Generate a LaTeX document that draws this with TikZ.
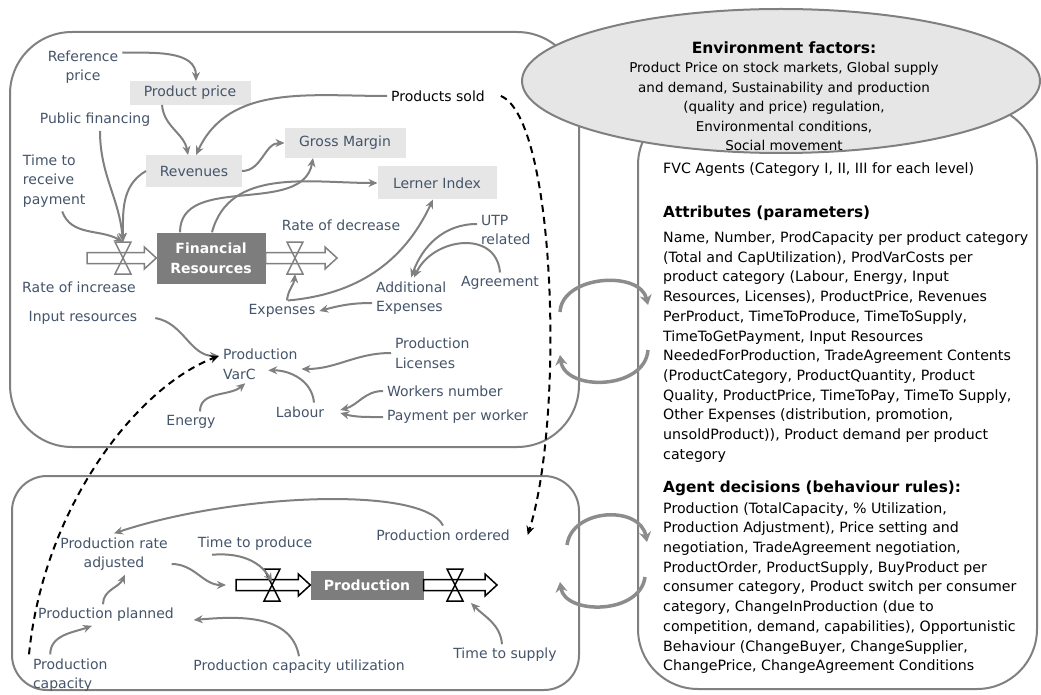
\documentclass[tikz,border=0pt]{standalone}
\usepackage{fontspec}
\setmainfont{DejaVu Sans}
\usetikzlibrary{arrows.meta,calc,shapes.geometric}

\definecolor{lblcol}{RGB}{68,84,106}
\definecolor{arrcol}{RGB}{128,128,128}
\definecolor{panelcol}{RGB}{128,128,128}
\definecolor{auxfill}{RGB}{231,230,230}
\definecolor{stockfill}{RGB}{125,125,125}
\definecolor{envfill}{RGB}{230,230,230}
\definecolor{swapcol}{RGB}{140,140,140}

\newcommand{\flowpipe}[3]{\draw[draw=#3, line width=1.5pt] ($(#1)+(0,-5.5)$) -- ($(#2)+(-12,-5.5)$) -- ($(#2)+(-12,-11)$) -- (#2) -- ($(#2)+(-12,11)$) -- ($(#2)+(-12,5.5)$) -- ($(#1)+(0,5.5)$) -- cycle;}
\newcommand{\valveat}[3]{\node[valve] (#1) at (#2) {}; \draw[draw=#3, line width=1.5pt] (#1.north west) -- (#1.south east) -- (#1.south west) -- (#1.north east) -- cycle;}

\tikzset{
    lbl/.style={text=lblcol, font=\fontsize{14}{19.7}\selectfont, inner sep=1pt, outer sep=3pt},
    aux/.style={lbl, fill=auxfill, inner sep=0pt, outer sep=0pt},
    stock/.style={fill=stockfill, text=white, font=\fontsize{14}{19.7}\selectfont\bfseries, align=center, inner sep=0pt},
    infl/.style={draw=arrcol, line width=2pt, -{Stealth[length=9pt,width=8pt]}},
    dashlink/.style={draw=black, line width=2pt, dash pattern=on 7pt off 5pt, -{Stealth[length=9pt,width=8pt]}},
    panel/.style={draw=panelcol, line width=2pt},
    valve/.style={minimum width=16pt, minimum height=32pt, inner sep=0pt, outer sep=0pt},
    swaparr/.style={draw=swapcol, line width=3.5pt, -{Stealth[length=10pt,width=12pt]}},
    envell/.style={ellipse, draw=panelcol, fill=envfill, line width=2pt, minimum width=518pt, minimum height=144pt, inner sep=0pt},
    envtxt/.style={font=\fontsize{13.5}{19.5}\selectfont, align=center, inner sep=0pt},
    rtxt/.style={font=\fontsize{14.2}{19.7}\selectfont, align=left, inner sep=0pt, anchor=west},
    rhead/.style={font=\fontsize{15.3}{19.7}\selectfont\bfseries, inner sep=0pt, anchor=west}
}

\begin{document}
\begin{tikzpicture}[x=1pt,y=-1pt]
    \useasboundingbox (0,0) rectangle (1041,695);

    \draw[panel, rounded corners=62pt] (10,32) rectangle (579,447);
    \draw[panel, rounded corners=35pt] (12,476) rectangle (579,690);
    \draw[panel, rounded corners=60pt] (638,105) rectangle (1037,689);
    \node[envell] (env) at (781,81) {};

    \node[envtxt] (envtext) at (784,96) {{\fontsize{15.5}{19.5}\selectfont\bfseries Environment factors:}\\Product Price on stock markets, Global supply\\and demand, Sustainability and production\\(quality and price) regulation,\\Environmental conditions,\\Social movement};

    \node[rtxt] (fvc) at (663,170) {FVC Agents (Category I, II, III for each level)};
    \node[rhead] (attrhead) at (663,213) {Attributes (parameters)};
    \node[rtxt] (attrtext) at (663,347) {Name, Number, ProdCapacity per product category\\(Total and CapUtilization), ProdVarCosts per\\product category (Labour, Energy, Input\\Resources, Licenses), ProductPrice, Revenues\\PerProduct, TimeToProduce, TimeToSupply,\\TimeToGetPayment, Input Resources\\NeededForProduction, TradeAgreement Contents\\(ProductCategory, ProductQuantity, Product\\Quality, ProductPrice, TimeToPay, TimeTo Supply,\\Other Expenses (distribution, promotion,\\unsoldProduct)), Product demand per product\\category};
    \node[rhead] (dechead) at (663,488) {Agent decisions (behaviour rules):};
    \node[rtxt] (dectext) at (663,588) {Production (TotalCapacity, \% Utilization,\\Production Adjustment), Price setting and\\negotiation, TradeAgreement negotiation,\\ProductOrder, ProductSupply, BuyProduct per\\consumer category, Product switch per consumer\\category, ChangeInProduction (due to\\competition, demand, capabilities), Opportunistic\\Behaviour (ChangeBuyer, ChangeSupplier,\\ChangePrice, ChangeAgreement Conditions};

    \node[lbl, align=center] (refp) at (83,67) {Reference\\price};
    \node[aux, minimum width=121pt, minimum height=24pt] (pprice) at (190,93) {Product price};
    \node[lbl] (pubfin) at (95,120) {Public financing};
    \node[aux, minimum width=96pt, minimum height=32pt] (rev) at (194,171) {Revenues};
    \node[lbl, align=left, anchor=west] (trp) at (19,181) {Time to\\receive\\payment};
    \node[aux, minimum width=121pt, minimum height=30pt] (gm) at (345,143) {Gross Margin};
    \node[aux, minimum width=119pt, minimum height=33pt] (lerner) at (437,183) {Lerner Index};
    \node[lbl, text=black] (psold) at (438,96) {Products sold};
    \node[stock, minimum width=109pt, minimum height=51pt] (finres) at (211,258) {Financial\\Resources};
    \node[lbl] (rinc) at (79,287) {Rate of increase};
    \node[lbl] (rdec) at (341,225) {Rate of decrease};
    \node[lbl, align=left, anchor=west] (utp) at (477,230) {UTP\\related};
    \node[lbl] (agree) at (500,283) {Agreement};
    \node[lbl, align=left, anchor=west] (addexp) at (372,298) {Additional\\Expenses};
    \node[lbl] (exp) at (282,311) {Expenses};
    \node[lbl] (inres) at (83,318) {Input resources};
    \node[lbl, align=left, anchor=west] (pvarc) at (219,364) {Production\\VarC};
    \node[lbl, align=left, anchor=west] (plic) at (391,353) {Production\\Licenses};
    \node[lbl, anchor=west] (wnum) at (383,391) {Workers number};
    \node[lbl, anchor=west] (ppw) at (383,417) {Payment per worker};
    \node[lbl] (labour) at (300,412) {Labour};
    \node[lbl] (energy) at (191,422) {Energy};

    \node[lbl, align=center] (pra) at (114,554) {Production rate\\adjusted};
    \node[lbl] (ttp) at (255,544) {Time to produce};
    \node[lbl] (pplan) at (106,615) {Production planned};
    \node[lbl, align=left, anchor=west] (pcap) at (29,675) {Production\\capacity};
    \node[lbl] (pcu) at (299,667) {Production capacity utilization};
    \node[stock, minimum width=113pt, minimum height=29pt] (prod) at (367,585) {Production};
    \node[lbl] (pord) at (443,535) {Production ordered};
    \node[lbl] (tts) at (505,655) {Time to supply};

    \coordinate (src1) at (87,258);
    \coordinate (sink1) at (337,258);
    \coordinate (src2) at (236,585);
    \coordinate (sink2) at (497,585);
    \flowpipe{src1}{finres.west}{arrcol}
    \flowpipe{finres.east}{sink1}{arrcol}
    \flowpipe{src2}{prod.west}{black}
    \flowpipe{prod.east}{sink2}{black}
    \valveat{vin}{123,258}{arrcol}
    \valveat{vout}{295,258}{arrcol}
    \valveat{vin2}{272,585}{black}
    \valveat{vout2}{455,585}{black}

    \draw[infl] (refp.20) to[out=0,in=90] ([xshift=6pt]pprice.north);
    \draw[infl] ([xshift=-28pt]pprice.south) to[out=-85,in=100] ([xshift=-6pt]rev.north);
    \draw[infl] (psold.west) to[out=180,in=65] ([xshift=2pt]rev.north);
    \draw[infl] ([xshift=5pt]pubfin.south) to[out=-90,in=95] (vin.north);
    \draw[infl] (rev.west) to[out=210,in=90] (vin.north);
    \draw[infl] ([xshift=8pt]trp.south) to[out=-70,in=150] (vin.north);
    \draw[infl] (rev.east) to[out=0,in=180] (gm.west);
    \draw[infl] ([xshift=-31pt]finres.north) to[out=90,in=-100] ([xshift=-32pt]gm.south);
    \draw[infl] ([xshift=1pt]finres.north) to[out=75,in=180] (lerner.west);
    \draw[infl] ([xshift=6pt]exp.north) to[out=5,in=-115] ([xshift=-4pt]lerner.south);
    \draw[infl] ([xshift=5pt]exp.north) to[out=85,in=-95] (vout.south);
    \draw[infl] ([yshift=-5pt]addexp.west) to[out=180,in=15] (exp.east);
    \draw[infl] ([yshift=6pt]utp.west) to[out=180,in=70] (addexp.north);
    \draw[infl] (agree.north) to[out=95,in=65,looseness=1.3] ([xshift=3pt]addexp.north);
    \draw[infl] ([xshift=14pt]inres.east) to[out=-10,in=180] ([yshift=8pt]pvarc.west);
    \draw[infl] (plic.west) to[out=180,in=0] ([yshift=-5pt]pvarc.east);
    \draw[infl] ([xshift=14pt]labour.north) to[out=95,in=0] ([xshift=8pt,yshift=13pt]pvarc.south);
    \draw[infl] ([xshift=9pt]energy.north) to[out=90,in=220] ([xshift=-15pt]pvarc.south);
    \draw[infl] (wnum.west) to[out=180,in=15] ([xshift=12pt,yshift=2pt]labour.east);
    \draw[infl] (ppw.west) to[out=180,in=-15] ([xshift=12pt,yshift=-1pt]labour.east);

    \draw[dashlink] ([xshift=12pt]psold.east) .. controls +(55,22) and +(37,-117) .. ([xshift=14pt]pord.east);
    \draw[dashlink] (pcap.north west) .. controls +(15,-150) and +(-80,30) .. ([yshift=8pt]pvarc.west);

    \draw[infl] (pord.north) .. controls +(-20,-40) and +(120,-40) .. (pra.north);
    \draw[infl] ([yshift=-10pt]pra.east) to[out=0,in=180] ([xshift=-10pt]src2);
    \draw[infl] ([xshift=-43pt]ttp.south) to[out=5,in=120] ([yshift=3pt]vin2.center);
    \draw[infl] ([xshift=-3pt]pplan.north) to[out=90,in=-115] ([xshift=11pt]pra.south);
    \draw[infl] ([xshift=-20pt]pcap.north) to[out=90,in=200] ([xshift=-14pt]pplan.south);
    \draw[infl] (pcu.north) to[out=100,in=5] ([xshift=16pt,yshift=-5pt]pplan.east);
    \draw[infl] ([xshift=-3pt]tts.north) to[out=95,in=-45] ([xshift=16pt,yshift=-2pt]vout2.south);

    \coordinate (la1) at (560,312);
    \coordinate (la2) at (648,305);
    \coordinate (lb1) at (648,350);
    \coordinate (lb2) at (560,355);
    \coordinate (lc1) at (567,545);
    \coordinate (lc2) at (647,542);
    \coordinate (ld1) at (645,577);
    \coordinate (ld2) at (560,582);
    \draw[swaparr] (la1) .. controls +(2,-37) and +(-8,-35) .. (la2);
    \draw[swaparr] (lb1) .. controls +(-3,40) and +(5,37) .. (lb2);
    \draw[swaparr] (lc1) .. controls +(5,-37) and +(-7,-37) .. (lc2);
    \draw[swaparr] (ld1) .. controls +(-5,38) and +(5,33) .. (ld2);
\end{tikzpicture}
\end{document}
